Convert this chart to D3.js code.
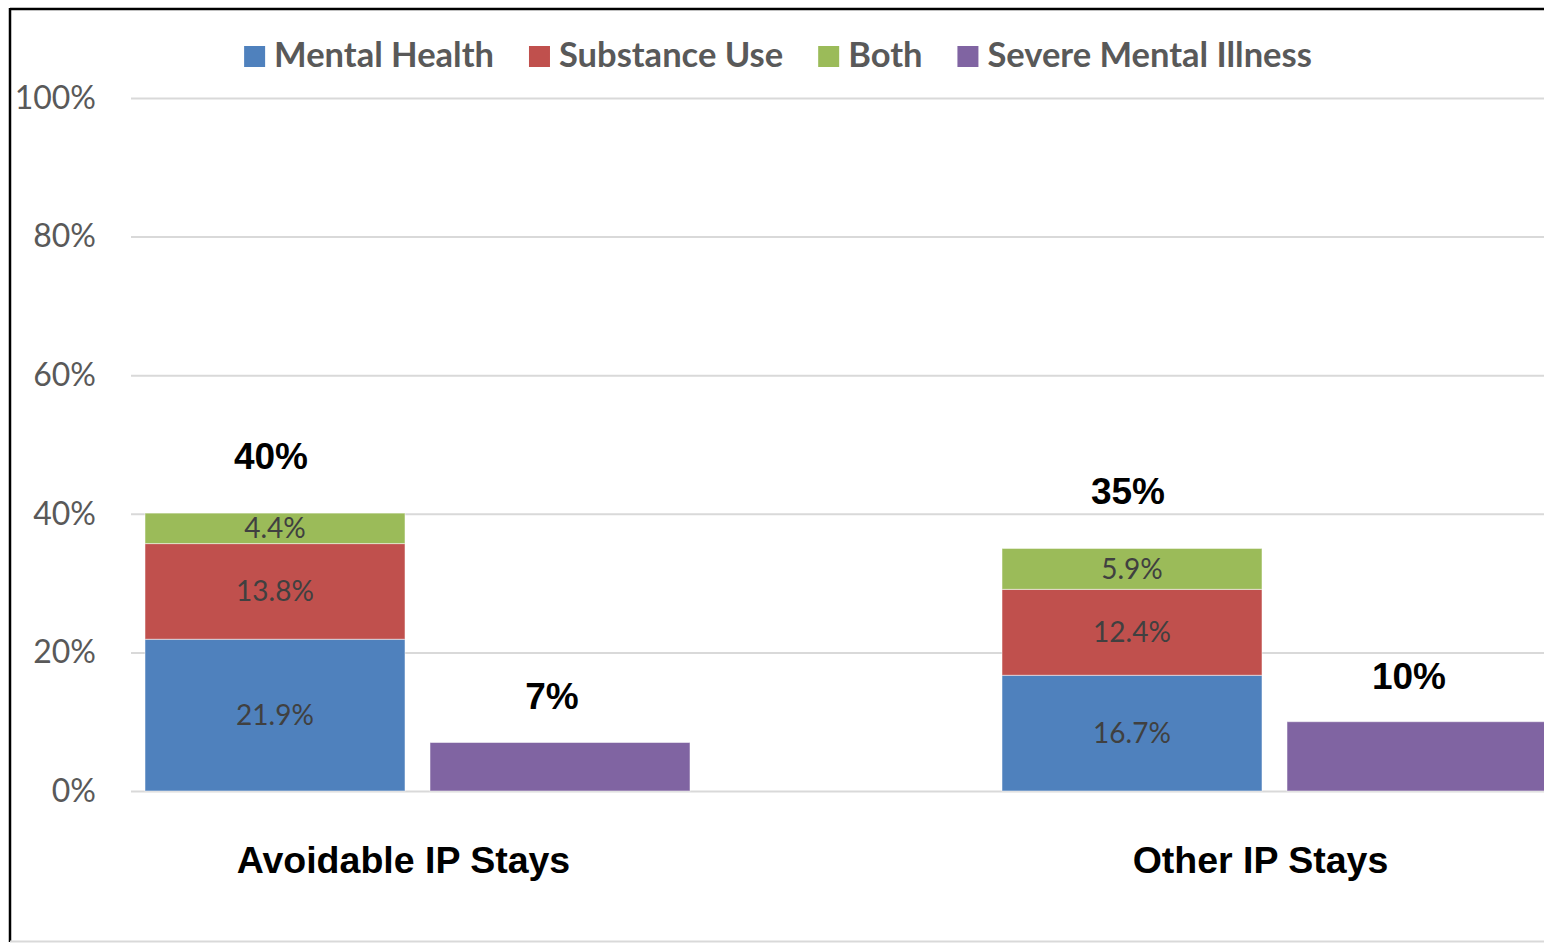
<!DOCTYPE html>
<html>
<head>
<meta charset="utf-8">
<script src="https://cdn.jsdelivr.net/npm/d3@7"></script>
<style>
  html, body { margin: 0; padding: 0; background: #fff; overflow: hidden; }
  svg { display: block; }
</style>
</head>
<body>
<svg id="chart" width="1544" height="943"></svg>
<script>
// Share of inpatient stays with a behavioral health condition
const categories = ["Avoidable IP Stays", "Other IP Stays"];
const stackSeries = ["Mental Health", "Substance Use", "Both"];
const mentalHealth = [21.9, 16.7];
const substanceUse = [13.8, 12.4];
const both = [4.4, 5.9];
const severeMentalIllness = [7, 10];
const legendLabels = ["Mental Health", "Substance Use", "Both", "Severe Mental Illness"];
const yTicks = [0, 20, 40, 60, 80, 100];

const colors = {
  "Mental Health": "#4f81bd",
  "Substance Use": "#c0504d",
  "Both": "#9bbb59",
  "Severe Mental Illness": "#8064a2"
};

const W = 1544, H = 943;
const svg = d3.select("#chart");

// frame
svg.append("line").attr("x1", 10).attr("x2", W + 5).attr("y1", 9).attr("y2", 9)
  .attr("stroke", "#000").attr("stroke-width", 2.5);
svg.append("line").attr("x1", 10).attr("x2", 10).attr("y1", 8).attr("y2", 942)
  .attr("stroke", "#000").attr("stroke-width", 2.5);
svg.append("line").attr("x1", 10).attr("x2", W + 5).attr("y1", 941.5).attr("y2", 941.5)
  .attr("stroke", "#d9d9d9").attr("stroke-width", 2);

const plotLeft = 131;
const y = d3.scaleLinear().domain([0, 100]).range([791, 98]);

const x = d3.scaleBand().domain(categories).range([145, 1547])
  .paddingInner(312 / 857).paddingOuter(0);
const xSub = d3.scaleBand().domain(["stack", "smi"]).range([0, x.bandwidth()])
  .paddingInner(25 / 285).paddingOuter(0);

// gridlines
const grid = svg.append("g").attr("transform", `translate(${plotLeft},0)`)
  .call(d3.axisLeft(y).tickValues(yTicks).tickSize(-(W - plotLeft + 10)).tickFormat(""));
grid.select(".domain").remove();
grid.selectAll(".tick line").attr("stroke", "#d9d9d9").attr("stroke-width", 2);

// y tick labels
const yAxis = svg.append("g").attr("transform", `translate(${plotLeft},0)`)
  .call(d3.axisLeft(y).tickValues(yTicks).tickSize(0).tickPadding(35).tickFormat(d => d + "%"));
yAxis.select(".domain").remove();
yAxis.selectAll("text")
  .attr("font-family", "Lato, 'Open Sans', sans-serif")
  .attr("font-size", 32)
  .attr("fill", "#595959");

// stacked bars
const rows = categories.map((c, i) => ({
  category: c,
  "Mental Health": mentalHealth[i],
  "Substance Use": substanceUse[i],
  "Both": both[i]
}));
const stacked = d3.stack().keys(stackSeries)(rows);

const stackG = svg.append("g");
stacked.forEach(layer => {
  const key = layer.key;
  const g = stackG.append("g");
  g.selectAll("rect").data(layer).join("rect")
    .attr("x", d => x(d.data.category) + xSub("stack"))
    .attr("width", xSub.bandwidth())
    .attr("y", d => y(d[1]))
    .attr("height", d => y(d[0]) - y(d[1]))
    .attr("fill", colors[key])
    .attr("stroke", "rgba(255,255,255,0.5)")
    .attr("stroke-width", 1);
  g.selectAll("text").data(layer).join("text")
    .attr("x", d => x(d.data.category) + xSub("stack") + xSub.bandwidth() / 2)
    .attr("y", d => (y(d[0]) + y(d[1])) / 2)
    .attr("dy", "0.36em")
    .attr("text-anchor", "middle")
    .attr("font-family", "Lato, 'Open Sans', sans-serif")
    .attr("font-size", 28)
    .attr("fill", "#404040")
    .text(d => d.data[key].toFixed(1) + "%");
});

// stack totals
const totals = rows.map(r => ({ category: r.category, total: d3.sum(stackSeries, k => r[k]) }));
svg.append("g").selectAll("text").data(totals).join("text")
  .attr("x", d => x(d.category) + xSub("stack") + xSub.bandwidth() / 2 - 4)
  .attr("y", d => y(d.total) - 44)
  .attr("text-anchor", "middle")
  .attr("font-family", "'Liberation Sans', Arial, sans-serif")
  .attr("font-weight", "bold")
  .attr("font-size", 37)
  .attr("fill", "#000")
  .text(d => Math.round(d.total) + "%");

// severe mental illness bars
const smiRows = categories.map((c, i) => ({ category: c, value: severeMentalIllness[i] }));
const smiG = svg.append("g");
smiG.selectAll("rect").data(smiRows).join("rect")
  .attr("x", d => x(d.category) + xSub("smi"))
  .attr("width", xSub.bandwidth())
  .attr("y", d => y(d.value))
  .attr("height", d => y(0) - y(d.value))
  .attr("fill", colors["Severe Mental Illness"])
  .attr("stroke", "rgba(255,255,255,0.5)")
  .attr("stroke-width", 1);
smiG.selectAll("text").data(smiRows).join("text")
  .attr("x", d => x(d.category) + xSub("smi") + xSub.bandwidth() / 2 - 8)
  .attr("y", d => y(d.value) - 33)
  .attr("text-anchor", "middle")
  .attr("font-family", "'Liberation Sans', Arial, sans-serif")
  .attr("font-weight", "bold")
  .attr("font-size", 37)
  .attr("fill", "#000")
  .text(d => d.value + "%");

// category labels
svg.append("g").selectAll("text").data(categories).join("text")
  .attr("x", d => x(d) + x.bandwidth() / 2 - 14)
  .attr("y", 873)
  .attr("text-anchor", "middle")
  .attr("font-family", "'Liberation Sans', Arial, sans-serif")
  .attr("font-weight", "bold")
  .attr("font-size", 37.5)
  .attr("fill", "#000")
  .text(d => d);

// legend
const legend = svg.append("g");
const items = legend.selectAll("g").data(legendLabels).join("g");
items.append("rect")
  .attr("width", 21).attr("height", 21)
  .attr("y", 46)
  .attr("fill", d => colors[d]);
items.append("text")
  .attr("x", 30)
  .attr("y", 67)
  .attr("font-family", "Lato, 'Open Sans', sans-serif")
  .attr("font-weight", "bold")
  .attr("font-size", 34.5)
  .attr("fill", "#595959")
  .text(d => d);
let cursor = 0;
const offsets = [];
items.each(function () {
  offsets.push(cursor);
  const w = d3.select(this).select("text").node().getComputedTextLength();
  cursor += 30 + w + 35;
});
const legendWidth = cursor - 35;
const legendStart = 778 - legendWidth / 2;
items.attr("transform", (d, i) => `translate(${legendStart + offsets[i]},0)`);
</script>
</body>
</html>
